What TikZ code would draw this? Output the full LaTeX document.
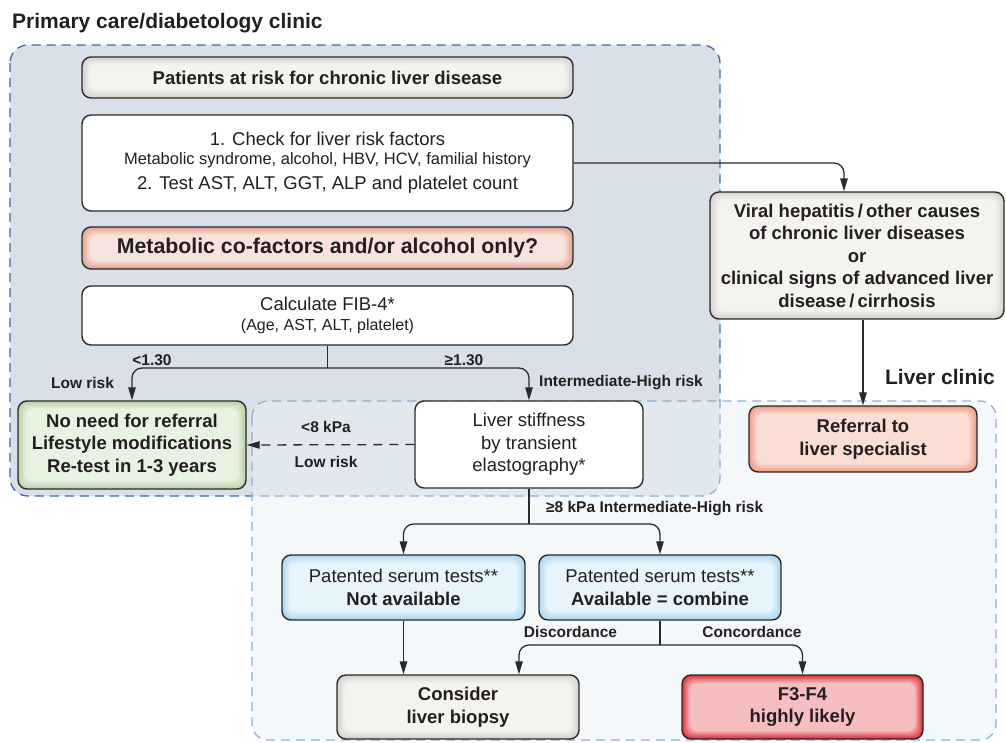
\documentclass[tikz,border=0pt]{standalone}
\usepackage{fontspec}
\setmainfont{Liberation Sans}
\usepackage{tikz}
\usetikzlibrary{ arrows.meta, % For the slim triangle tips
                 calc,
               }

\definecolor{textcol}{HTML}{231F20}
\definecolor{linecol}{HTML}{2A2A2A}
\definecolor{primfill}{HTML}{D9E0E9}
\definecolor{primline}{HTML}{3A6AAE}
\definecolor{liverfill}{HTML}{E9F1F5}
\definecolor{liverline}{HTML}{8FAED2}
\definecolor{grayedge}{HTML}{D6D3CC}
\definecolor{graycore}{HTML}{F5F4F1}
\definecolor{rededge}{HTML}{E3A091}
\definecolor{redcore}{HTML}{F9E5E1}
\definecolor{greenedge}{HTML}{B3D5A4}
\definecolor{greencore}{HTML}{EAF3E4}
\definecolor{orangeedge}{HTML}{EE9A85}
\definecolor{orangecore}{HTML}{FBE0D8}
\definecolor{blueedge}{HTML}{A9D6EF}
\definecolor{bluecore}{HTML}{EAF5FC}
\definecolor{alarmedge}{HTML}{DD2F38}
\definecolor{alarmcore}{HTML}{F7C4C6}

\tikzstyle{box} = [rectangle, rounded corners=9pt, draw=linecol, line width=1.4pt, align=center, text=textcol, inner sep=0pt, font=\fontsize{18.5}{22.5}\selectfont]
\tikzstyle{boldbox} = [box, font=\fontsize{18.5}{22.5}\selectfont\bfseries]
\tikzstyle{lbl} = [text=textcol, inner sep=0pt, font=\fontsize{15.5}{18}\selectfont\bfseries]
\tikzstyle{zonetitle} = [text=textcol, inner sep=0pt, font=\fontsize{21}{24}\selectfont\bfseries]
\tikzstyle{flow} = [-{Triangle[length=13pt,width=7.5pt]}, line width=1.3pt, draw=linecol, rounded corners=10pt]
\tikzstyle{line} = [line width=1.3pt, draw=linecol]
\tikzstyle{primzone} = [fill=primfill, draw=primline, line width=1.3pt, dash pattern=on 9pt off 6pt, rounded corners=18pt]
\tikzstyle{liverzone} = [fill=liverfill, fill opacity=0.5, draw=liverline, line width=1.2pt, dash pattern=on 9pt off 6pt, rounded corners=16pt]

% soft coloured rim inside a box
\tikzset{glow/.style 2 args={fill=#1, path picture={
  \foreach \k [evaluate=\k as \p using int(100-12*\k)] in {1,...,8}
    \fill[#1!\p!#2, rounded corners=8pt] ([shift={(\k*1pt,-\k*1pt)}]path picture bounding box.north west)
      rectangle ([shift={(-\k*1pt,\k*1pt)}]path picture bounding box.south east);
}}}

\begin{document}
\begin{tikzpicture}[x=1pt, y=-1pt]
  \useasboundingbox (0,0) rectangle (1006,742);

  % the two clinics
  \draw [primzone] (10,45) rectangle (720,496);
  \draw [liverzone] (252,401) rectangle (996,740);
  \node (primtitle) [zonetitle, anchor=west] at (12,23) {Primary care/diabetology clinic};
  \node (livertitle) [zonetitle] at (940,377) {Liver clinic};

  \node (patients) [boldbox, glow={grayedge}{graycore}, minimum width=491pt, minimum height=41pt] at (327.5,77.5) {Patients at risk for chronic liver disease};
  \node (check) [box, fill=white, minimum width=491pt, minimum height=96pt] at (327.5,163) {1. Check for liver risk factors\\[-4pt] {\fontsize{16.5}{19}\selectfont Metabolic syndrome, alcohol, HBV, HCV, familial history}\\[3pt] 2. Test AST, ALT, GGT, ALP and platelet count};
  \node (metab) [box, glow={rededge}{redcore}, font=\fontsize{21.3}{26}\selectfont\bfseries, minimum width=491pt, minimum height=42pt] at (327.5,248) {Metabolic co-factors and/or alcohol only?};
  \node (fib) [box, fill=white, minimum width=491pt, minimum height=59pt] at (327.5,315.5) {Calculate FIB-4*\\[-2pt] {\fontsize{16}{19}\selectfont (Age, AST, ALT, platelet)}};

  \node (norefer) [boldbox, glow={greenedge}{greencore}, minimum width=228pt, minimum height=88pt] at (132,445) {No need for referral\\Lifestyle modifications\\Re-test in 1-3 years};
  \node (stiff) [box, fill=white, minimum width=228pt, minimum height=87pt] at (529,444.5) {Liver stiffness\\by transient\\elastography*};
  \node (viral) [boldbox, glow={grayedge}{graycore}, minimum width=294pt, minimum height=127pt] at (857,255.5) {Viral hepatitis\,/\,other causes\\of chronic liver diseases\\or\\clinical signs of advanced liver\\disease\,/\,cirrhosis};
  \node (referral) [boldbox, glow={orangeedge}{orangecore}, minimum width=228pt, minimum height=66pt] at (863,439) {Referral to\\liver specialist};

  \node (notavail) [box, glow={blueedge}{bluecore}, minimum width=243pt, minimum height=65pt] at (403.5,587.5) {Patented serum tests**\\\textbf{Not available}};
  \node (combine) [box, glow={blueedge}{bluecore}, minimum width=242pt, minimum height=65pt] at (660,587.5) {Patented serum tests**\\\textbf{Available = combine}};
  \node (biopsy) [boldbox, glow={grayedge}{graycore}, minimum width=242pt, minimum height=64pt] at (458,707) {Consider\\liver biopsy};
  \node (f3) [boldbox, glow={alarmedge}{alarmcore}, minimum width=241pt, minimum height=64pt] at (802.5,707) {F3-F4\\highly likely};

  % FIB-4 split
  \coordinate (fibsplit) at (327.5,368);
  \draw [line] (fib.south) -- (fibsplit);
  \draw [flow] (fibsplit) -| (norefer.north);
  \draw [flow] (fibsplit) -| (stiff.north);
  \node (lowfib) [lbl] at (152,360) {<1.30};
  \node (highfib) [lbl] at (464,360) {≥1.30};
  \node (lowrisk) [lbl] at (82.5,383) {Low risk};
  \node (highrisk) [lbl, anchor=west] at (539,383) {Intermediate-High risk};

  % other causes
  \draw [flow] (check.east) -| ([xshift=-13pt]viral.north);
  \draw [flow] (referral.north |- viral.south) -- (referral.north);

  % elastography
  \draw [flow, dash pattern=on 9pt off 7pt] (stiff.west) -- (norefer.east);
  \node (lowkpa) [lbl] at (326,427) {<8 kPa};
  \node (lowrisk2) [lbl] at (326,462) {Low risk};
  \coordinate (stiffsplit) at (529,524);
  \draw [line] (stiff.south) -- (stiffsplit);
  \draw [flow] (stiffsplit) -| (notavail.north);
  \draw [flow] (stiffsplit) -| (combine.north);
  \node (highkpa) [lbl, anchor=west] at (546,509) {≥8 kPa Intermediate-High risk};

  % serum tests
  \draw [flow] (notavail.south) -- (notavail.south |- biopsy.north);
  \coordinate (combsplit) at (660,645);
  \draw [line] (combine.south) -- (combsplit);
  \draw [flow] (combsplit) -| ([xshift=61pt]biopsy.north);
  \draw [flow] (combsplit) -| (f3.north);
  \node (discord) [lbl] at (570.5,632) {Discordance};
  \node (concord) [lbl] at (752,632) {Concordance};
\end{tikzpicture}
\end{document}
